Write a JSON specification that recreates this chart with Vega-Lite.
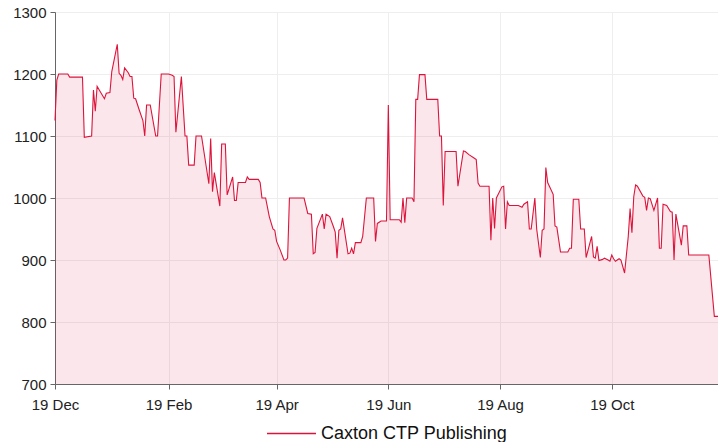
{
  "$schema": "https://vega.github.io/schema/vega-lite/v6.json",
  "width": 663,
  "height": 372,
  "autosize": {"type": "none"},
  "padding": {"left": 55, "top": 12, "right": 0, "bottom": 58},
  "config": {
    "font": "Liberation Sans",
    "view": {"stroke": null},
    "axis": {"gridColor": "#eeeeee", "domainColor": "#666666", "tickColor": "#666666", "labelColor": "#222222", "tickSize": 5},
    "legend": {"layout": {"bottom": {"anchor": "middle"}}}
  },
  "data": {"values": [
    {"date": "2018-12-19", "price": 1125},
    {"date": "2018-12-20", "price": 1190},
    {"date": "2018-12-21", "price": 1200},
    {"date": "2018-12-26", "price": 1200},
    {"date": "2018-12-27", "price": 1195},
    {"date": "2019-01-03", "price": 1195},
    {"date": "2019-01-04", "price": 1098},
    {"date": "2019-01-08", "price": 1100},
    {"date": "2019-01-09", "price": 1174},
    {"date": "2019-01-10", "price": 1140},
    {"date": "2019-01-11", "price": 1180},
    {"date": "2019-01-12", "price": 1175},
    {"date": "2019-01-15", "price": 1160},
    {"date": "2019-01-16", "price": 1169},
    {"date": "2019-01-18", "price": 1170},
    {"date": "2019-01-19", "price": 1204},
    {"date": "2019-01-22", "price": 1248},
    {"date": "2019-01-23", "price": 1201},
    {"date": "2019-01-24", "price": 1198},
    {"date": "2019-01-25", "price": 1191},
    {"date": "2019-01-26", "price": 1210},
    {"date": "2019-01-28", "price": 1202},
    {"date": "2019-01-29", "price": 1196},
    {"date": "2019-01-30", "price": 1196},
    {"date": "2019-01-31", "price": 1161},
    {"date": "2019-02-01", "price": 1160},
    {"date": "2019-02-03", "price": 1142},
    {"date": "2019-02-05", "price": 1125},
    {"date": "2019-02-06", "price": 1100},
    {"date": "2019-02-07", "price": 1150},
    {"date": "2019-02-09", "price": 1150},
    {"date": "2019-02-12", "price": 1100},
    {"date": "2019-02-13", "price": 1100},
    {"date": "2019-02-15", "price": 1200},
    {"date": "2019-02-19", "price": 1200},
    {"date": "2019-02-21", "price": 1198},
    {"date": "2019-02-22", "price": 1196},
    {"date": "2019-02-23", "price": 1106},
    {"date": "2019-02-26", "price": 1196},
    {"date": "2019-02-28", "price": 1100},
    {"date": "2019-03-01", "price": 1100},
    {"date": "2019-03-02", "price": 1053},
    {"date": "2019-03-05", "price": 1053},
    {"date": "2019-03-06", "price": 1100},
    {"date": "2019-03-09", "price": 1100},
    {"date": "2019-03-13", "price": 1023},
    {"date": "2019-03-14", "price": 1096},
    {"date": "2019-03-15", "price": 1010},
    {"date": "2019-03-16", "price": 1041},
    {"date": "2019-03-19", "price": 987},
    {"date": "2019-03-20", "price": 1087},
    {"date": "2019-03-22", "price": 1087},
    {"date": "2019-03-23", "price": 1005},
    {"date": "2019-03-26", "price": 1034},
    {"date": "2019-03-27", "price": 996},
    {"date": "2019-03-28", "price": 996},
    {"date": "2019-03-29", "price": 1025},
    {"date": "2019-04-02", "price": 1025},
    {"date": "2019-04-03", "price": 1034},
    {"date": "2019-04-04", "price": 1030},
    {"date": "2019-04-09", "price": 1030},
    {"date": "2019-04-10", "price": 1025},
    {"date": "2019-04-11", "price": 1000},
    {"date": "2019-04-13", "price": 1000},
    {"date": "2019-04-15", "price": 970},
    {"date": "2019-04-17", "price": 950},
    {"date": "2019-04-18", "price": 948},
    {"date": "2019-04-19", "price": 930},
    {"date": "2019-04-21", "price": 916},
    {"date": "2019-04-23", "price": 900},
    {"date": "2019-04-24", "price": 900},
    {"date": "2019-04-25", "price": 903},
    {"date": "2019-04-26", "price": 1000},
    {"date": "2019-05-04", "price": 1000},
    {"date": "2019-05-06", "price": 975},
    {"date": "2019-05-08", "price": 974},
    {"date": "2019-05-09", "price": 910},
    {"date": "2019-05-10", "price": 912},
    {"date": "2019-05-11", "price": 951},
    {"date": "2019-05-14", "price": 974},
    {"date": "2019-05-15", "price": 950},
    {"date": "2019-05-16", "price": 974},
    {"date": "2019-05-18", "price": 970},
    {"date": "2019-05-20", "price": 954},
    {"date": "2019-05-21", "price": 945},
    {"date": "2019-05-22", "price": 903},
    {"date": "2019-05-23", "price": 948},
    {"date": "2019-05-24", "price": 950},
    {"date": "2019-05-25", "price": 968},
    {"date": "2019-05-28", "price": 910},
    {"date": "2019-05-29", "price": 911},
    {"date": "2019-05-30", "price": 919},
    {"date": "2019-05-31", "price": 910},
    {"date": "2019-06-01", "price": 928},
    {"date": "2019-06-04", "price": 928},
    {"date": "2019-06-05", "price": 938},
    {"date": "2019-06-07", "price": 1000},
    {"date": "2019-06-11", "price": 1000},
    {"date": "2019-06-12", "price": 930},
    {"date": "2019-06-13", "price": 959},
    {"date": "2019-06-15", "price": 963},
    {"date": "2019-06-18", "price": 963},
    {"date": "2019-06-19", "price": 1150},
    {"date": "2019-06-20", "price": 965},
    {"date": "2019-06-25", "price": 965},
    {"date": "2019-06-26", "price": 961},
    {"date": "2019-06-27", "price": 1000},
    {"date": "2019-06-28", "price": 960},
    {"date": "2019-06-29", "price": 1000},
    {"date": "2019-07-02", "price": 1000},
    {"date": "2019-07-03", "price": 994},
    {"date": "2019-07-04", "price": 1159},
    {"date": "2019-07-05", "price": 1159},
    {"date": "2019-07-06", "price": 1199},
    {"date": "2019-07-09", "price": 1199},
    {"date": "2019-07-10", "price": 1159},
    {"date": "2019-07-16", "price": 1159},
    {"date": "2019-07-17", "price": 1100},
    {"date": "2019-07-18", "price": 1100},
    {"date": "2019-07-19", "price": 988},
    {"date": "2019-07-20", "price": 1075},
    {"date": "2019-07-26", "price": 1075},
    {"date": "2019-07-27", "price": 1019},
    {"date": "2019-07-30", "price": 1076},
    {"date": "2019-07-31", "price": 1075},
    {"date": "2019-08-02", "price": 1070},
    {"date": "2019-08-05", "price": 1064},
    {"date": "2019-08-06", "price": 1062},
    {"date": "2019-08-07", "price": 1024},
    {"date": "2019-08-08", "price": 1019},
    {"date": "2019-08-13", "price": 1019},
    {"date": "2019-08-14", "price": 932},
    {"date": "2019-08-15", "price": 1000},
    {"date": "2019-08-16", "price": 951},
    {"date": "2019-08-17", "price": 1000},
    {"date": "2019-08-20", "price": 1018},
    {"date": "2019-08-21", "price": 1019},
    {"date": "2019-08-22", "price": 950},
    {"date": "2019-08-23", "price": 994},
    {"date": "2019-08-24", "price": 988},
    {"date": "2019-08-29", "price": 988},
    {"date": "2019-08-31", "price": 985},
    {"date": "2019-09-01", "price": 990},
    {"date": "2019-09-03", "price": 994},
    {"date": "2019-09-04", "price": 950},
    {"date": "2019-09-05", "price": 950},
    {"date": "2019-09-07", "price": 1000},
    {"date": "2019-09-08", "price": 950},
    {"date": "2019-09-10", "price": 904},
    {"date": "2019-09-11", "price": 948},
    {"date": "2019-09-12", "price": 950},
    {"date": "2019-09-13", "price": 1049},
    {"date": "2019-09-14", "price": 1025},
    {"date": "2019-09-17", "price": 1006},
    {"date": "2019-09-18", "price": 955},
    {"date": "2019-09-19", "price": 953},
    {"date": "2019-09-21", "price": 913},
    {"date": "2019-09-25", "price": 913},
    {"date": "2019-09-26", "price": 919},
    {"date": "2019-09-27", "price": 919},
    {"date": "2019-09-28", "price": 998},
    {"date": "2019-10-01", "price": 998},
    {"date": "2019-10-02", "price": 950},
    {"date": "2019-10-04", "price": 950},
    {"date": "2019-10-05", "price": 904},
    {"date": "2019-10-08", "price": 938},
    {"date": "2019-10-09", "price": 905},
    {"date": "2019-10-10", "price": 903},
    {"date": "2019-10-11", "price": 922},
    {"date": "2019-10-12", "price": 899},
    {"date": "2019-10-14", "price": 901},
    {"date": "2019-10-15", "price": 903},
    {"date": "2019-10-17", "price": 900},
    {"date": "2019-10-18", "price": 898},
    {"date": "2019-10-19", "price": 908},
    {"date": "2019-10-20", "price": 902},
    {"date": "2019-10-21", "price": 898},
    {"date": "2019-10-23", "price": 902},
    {"date": "2019-10-24", "price": 900},
    {"date": "2019-10-26", "price": 879},
    {"date": "2019-10-28", "price": 938},
    {"date": "2019-10-29", "price": 983},
    {"date": "2019-10-30", "price": 944},
    {"date": "2019-10-31", "price": 1002},
    {"date": "2019-11-01", "price": 1021},
    {"date": "2019-11-02", "price": 1019},
    {"date": "2019-11-05", "price": 1003},
    {"date": "2019-11-06", "price": 1001},
    {"date": "2019-11-07", "price": 980},
    {"date": "2019-11-08", "price": 1000},
    {"date": "2019-11-09", "price": 999},
    {"date": "2019-11-11", "price": 980},
    {"date": "2019-11-13", "price": 1000},
    {"date": "2019-11-14", "price": 919},
    {"date": "2019-11-15", "price": 919},
    {"date": "2019-11-16", "price": 990},
    {"date": "2019-11-18", "price": 988},
    {"date": "2019-11-20", "price": 978},
    {"date": "2019-11-21", "price": 977},
    {"date": "2019-11-22", "price": 900},
    {"date": "2019-11-23", "price": 974},
    {"date": "2019-11-26", "price": 924},
    {"date": "2019-11-27", "price": 955},
    {"date": "2019-11-29", "price": 955},
    {"date": "2019-11-30", "price": 908},
    {"date": "2019-12-11", "price": 908},
    {"date": "2019-12-14", "price": 809},
    {"date": "2019-12-16", "price": 809}
  ]},
  "encoding": {
    "x": {
      "field": "date",
      "type": "temporal",
      "scale": {"type": "utc", "domain": [{"year": 2018, "month": 12, "date": 19, "utc": true}, {"year": 2019, "month": 12, "date": 16, "utc": true}]},
      "axis": {
        "title": null,
        "labelExpr": "utcFormat(datum.value, '%d %b')",
        "values": [
          {"year": 2018, "month": 12, "date": 19, "utc": true},
          {"year": 2019, "month": 2, "date": 19, "utc": true},
          {"year": 2019, "month": 4, "date": 19, "utc": true},
          {"year": 2019, "month": 6, "date": 19, "utc": true},
          {"year": 2019, "month": 8, "date": 19, "utc": true},
          {"year": 2019, "month": 10, "date": 19, "utc": true}
        ],
        "labelFontSize": 15,
        "labelPadding": 8,
        "labelFlush": false
      }
    },
    "y": {
      "field": "price",
      "type": "quantitative",
      "scale": {"domain": [700, 1300], "nice": false, "zero": false},
      "axis": {"title": null, "format": "d", "values": [700, 800, 900, 1000, 1100, 1200, 1300], "labelFontSize": 15, "labelPadding": 4}
    }
  },
  "layer": [
    {
      "mark": {"type": "area", "color": "#dc143c", "fillOpacity": 0.1, "interpolate": "linear", "clip": true},
      "encoding": {"y2": {"datum": 700}}
    },
    {
      "mark": {"type": "line", "strokeWidth": 1.1, "interpolate": "linear"},
      "encoding": {
        "color": {
          "datum": "Caxton CTP Publishing",
          "scale": {"range": ["#dc143c"]},
          "legend": {
            "title": null,
            "orient": "bottom",
            "direction": "horizontal",
            "symbolType": "stroke",
            "symbolSize": 2400,
            "symbolStrokeWidth": 1.5,
            "labelFontSize": 18,
            "labelLimit": 0,
            "labelColor": "#111111",
            "padding": 0,
            "offset": -4
          }
        }
      }
    }
  ]
}
